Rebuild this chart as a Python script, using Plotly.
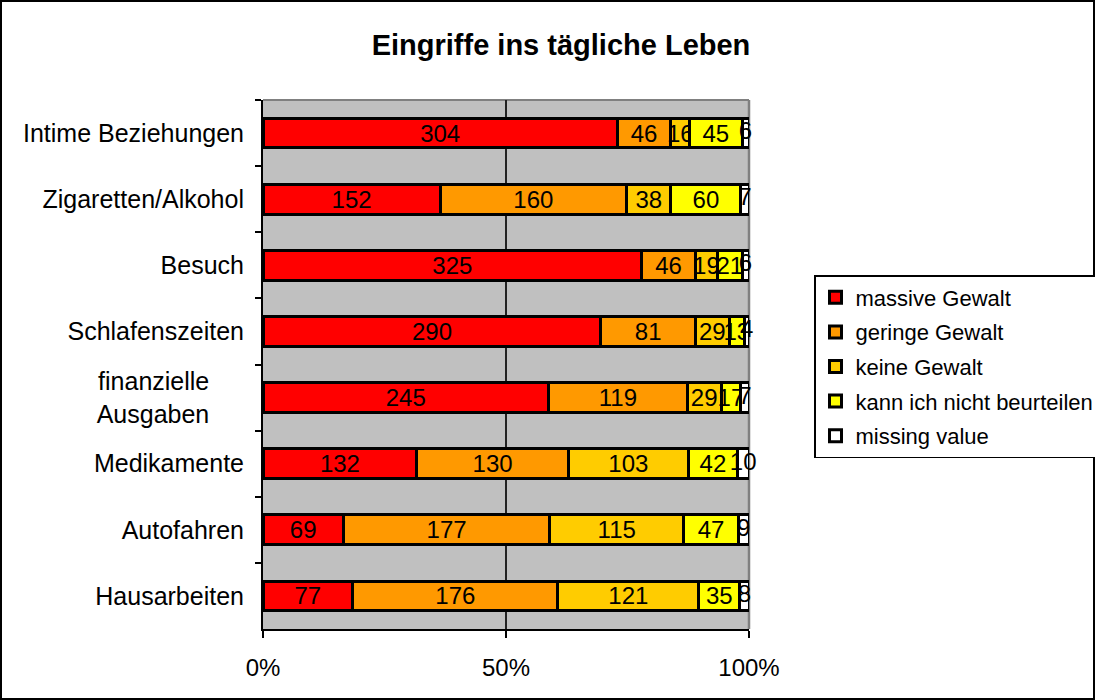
import plotly.graph_objects as go

NB = "\u00a0"
categories = ["Intime Beziehungen", "Zigaretten/Alkohol", "Besuch", "Schlafenszeiten",
              "finanzielle" + NB * 5 + "<br>Ausgaben" + NB * 5, "Medikamente", "Autofahren", "Hausarbeiten"]
massive = [304, 152, 325, 290, 245, 132, 69, 77]
geringe = [46, 160, 46, 81, 119, 130, 177, 176]
keine = [16, 38, 19, 29, 29, 103, 115, 121]
kann_nicht = [45, 60, 21, 13, 17, 42, 47, 35]
missing = [6, 7, 6, 4, 7, 10, 9, 8]

series = [
    ("massive Gewalt", massive, "#FF0000"),
    ("geringe Gewalt", geringe, "#FF9900"),
    ("keine Gewalt", keine, "#FFCC00"),
    ("kann ich nicht beurteilen", kann_nicht, "#FFFF00"),
    ("missing value", missing, "#FFFFFF"),
]

FONT = "Liberation Sans, Arial, sans-serif"

fig = go.Figure()
for i, (name, vals, col) in enumerate(series):
    last = i == len(series) - 1
    fig.add_trace(go.Bar(
        name=name, y=categories, x=vals, orientation="h",
        marker=dict(color=col, line=dict(color="black", width=3)),
        text=[str(v) for v in vals], textposition="none" if last else "inside", textangle=0,
        insidetextanchor="middle", constraintext="none",
        textfont=dict(family=FONT, size=24, color="black"),
        cliponaxis=False, legendgroup=f"g{i}",
    ))

# labels of the last (thin) segments, placed at each segment's centre in percent
totals = [sum(s[1][k] for s in series) for k in range(len(categories))]
before = [totals[k] - missing[k] for k in range(len(categories))]
mid_pct = [(before[k] + missing[k] / 2) / totals[k] * 100 for k in range(len(categories))]
fig.add_trace(go.Scatter(
    x=mid_pct, y=categories, mode="text", text=[str(v) for v in missing],
    textposition="middle center", textfont=dict(family=FONT, size=24, color="black"),
    showlegend=False, cliponaxis=False, hoverinfo="skip",
))

L, R, T, B = 263, 749, 100, 629
W, H = 1095, 700
pw, ph = R - L, B - T

fig.update_layout(
    width=W, height=H,
    margin=dict(l=L, r=W - R, t=T, b=H - B, autoexpand=False),
    barmode="stack", barnorm="percent", bargap=0.55,
    paper_bgcolor="white", plot_bgcolor="#C0C0C0",
    font=dict(family=FONT, size=24, color="black"),
    uniformtext=dict(minsize=24, mode="show"),
    title=dict(text="<b>Eingriffe ins tägliche Leben</b>", x=(561 - L) / pw, xref="paper",
               xanchor="center", y=1 - 45 / H, yref="container", yanchor="middle",
               font=dict(family=FONT, size=29, color="black")),
    legend=dict(x=(814 - L) / pw, y=(B - 275) / ph, xanchor="left", yanchor="top",
                bordercolor="black", borderwidth=1.5, bgcolor="white",
                font=dict(family=FONT, size=22, color="black"),
                traceorder="grouped", tracegroupgap=3, itemwidth=30),
    xaxis=dict(range=[0, 100], tickvals=[0, 50, 100], ticktext=["0%", "50%", "100%"],
               showgrid=True, gridcolor="#222222", gridwidth=1.5,
               showline=True, linecolor="black", linewidth=2,
               ticks="outside", ticklen=7, tickwidth=2, tickcolor="black",
               ticklabelstandoff=9, zeroline=False,
               tickfont=dict(family=FONT, size=24)),
    yaxis=dict(autorange="reversed", showline=True, linecolor="black", linewidth=2,
               ticks="outside", ticklen=6, tickwidth=2, tickcolor="black",
               tickson="boundaries", showgrid=False, ticklabelstandoff=12,
               tickfont=dict(family=FONT, size=25)),
    shapes=[
        dict(type="line", xref="paper", yref="paper", x0=0, x1=1, y0=1, y1=1,
             line=dict(color="#808080", width=2), layer="below"),
        dict(type="line", xref="paper", yref="paper", x0=1, x1=1, y0=0, y1=1,
             line=dict(color="#808080", width=2.5), layer="below"),
        dict(type="rect", xref="paper", yref="paper",
             x0=(1 - L) / pw, x1=(W - 1 - L) / pw,
             y0=(B - (H - 1)) / ph, y1=(B - 1) / ph,
             line=dict(color="black", width=2), fillcolor="rgba(0,0,0,0)"),
    ],
)

fig.write_html("out.html", config={"displayModeBar": False},
               post_script="document.body.style.margin='0';")
